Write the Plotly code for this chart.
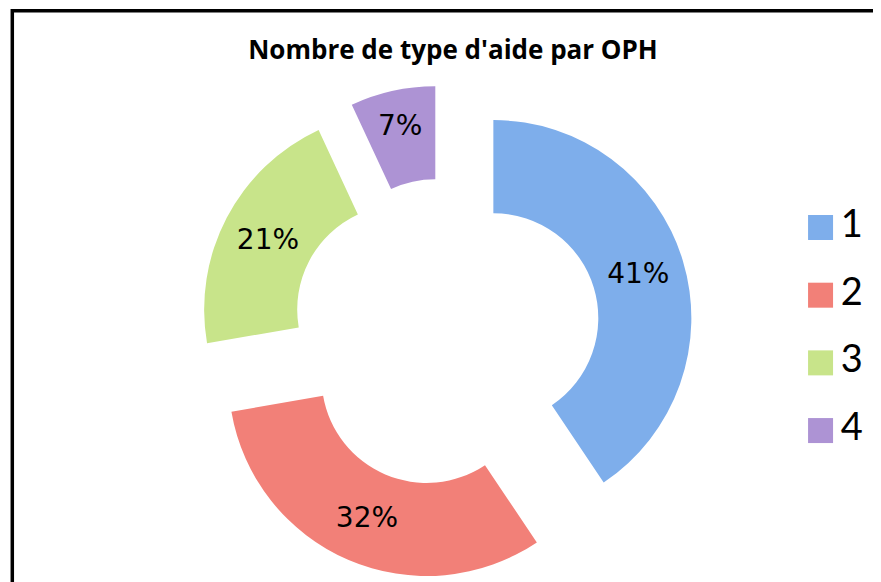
import plotly.graph_objects as go

# Data
categories = ["1", "2", "3", "4"]
values = [41, 32, 21, 7]
colors = ["#7eaeeb", "#f28078", "#c8e48a", "#ad93d4"]
title_text = "Nombre de type d'aide par OPH"

# The page body adds an 8px margin; positions below compensate for it.
W, H, OFF = 881, 582, 8

fig = go.Figure()

fig.add_trace(go.Pie(
    labels=categories,
    values=values,
    hole=0.53,
    pull=[0.25] * len(values),
    sort=False,
    direction="clockwise",
    rotation=0,
    marker=dict(colors=colors, line=dict(width=0)),
    texttemplate="%{value}%",
    textposition="inside",
    insidetextorientation="horizontal",
    textfont=dict(family="DejaVu Sans", size=28, color="black"),
    domain=dict(x=[(198.5 - OFF) / W, (693.5 - OFF) / W],
                y=[(H - 580 + OFF) / H, (H - 85 + OFF) / H]),
    showlegend=False,
    hoverinfo="label+value",
))

# Legend drawn on hidden axes
fig.add_trace(go.Scatter(
    x=[0] * len(categories),
    y=categories,
    mode="markers",
    marker=dict(symbol="square", size=25, color=colors, line=dict(width=0)),
    showlegend=False,
    hoverinfo="skip",
    cliponaxis=False,
))
fig.add_trace(go.Scatter(
    x=[1.6] * len(categories),
    y=categories,
    mode="text",
    text=categories,
    textposition="middle right",
    textfont=dict(family="Lato", size=38, color="black"),
    showlegend=False,
    hoverinfo="skip",
    cliponaxis=False,
))

fig.update_layout(
    width=W,
    height=H,
    margin=dict(l=0, r=0, t=0, b=0),
    paper_bgcolor="white",
    plot_bgcolor="rgba(0,0,0,0)",
    title=dict(
        text="<b>" + title_text + "</b>",
        x=(453 - OFF) / W,
        xanchor="center",
        y=1 - (50 - OFF) / H,
        yanchor="middle",
        yref="container",
        font=dict(family="Open Sans", size=26, color="black"),
    ),
    xaxis=dict(domain=[0.908, 1.0], range=[-1, 5.43], visible=False, fixedrange=True),
    yaxis=dict(domain=[0.2158, 0.681], type="category", categoryorder="array",
               categoryarray=categories, range=[3.5, -0.5], visible=False, fixedrange=True),
    shapes=[dict(
        type="rect", xref="paper", yref="paper",
        x0=(12.3 - OFF) / W, x1=1.02, y0=-0.02, y1=1 - (10.7 - OFF) / H,
        line=dict(color="black", width=3.5),
        fillcolor="rgba(0,0,0,0)",
        layer="above",
    )],
)

fig.write_html("out.html")
